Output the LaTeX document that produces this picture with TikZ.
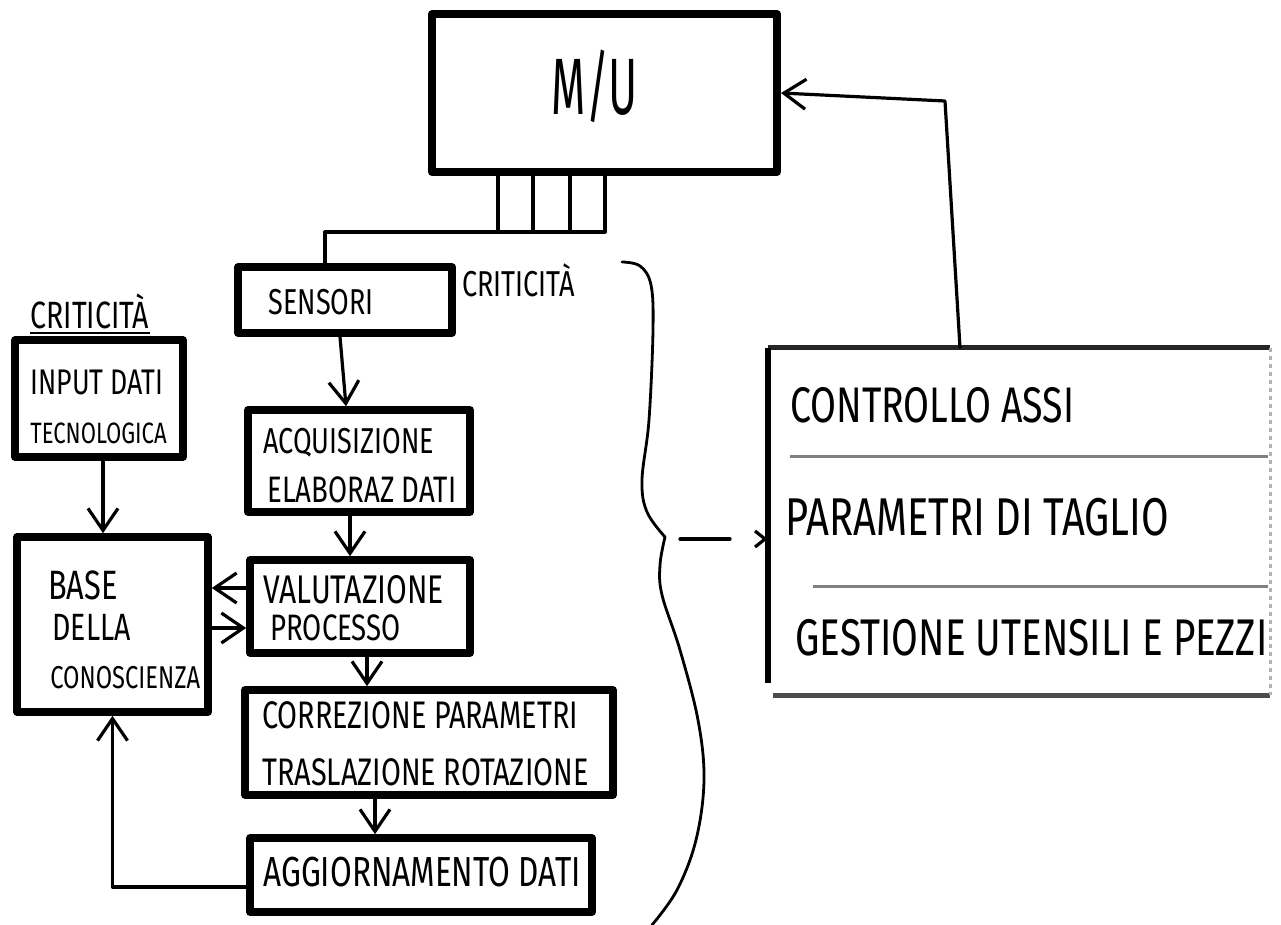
\documentclass[tikz,border=0pt]{standalone}
\usepackage{fontspec}
\setmainfont{Fira Sans}
\usetikzlibrary{arrows.meta,calc}
\newcommand{\hw}[3]{{\fontsize{#1}{#1}\selectfont\scalebox{#2}[1]{#3}}}
\begin{document}
\begin{tikzpicture}[x=0.5pt,y=-0.5pt,
  box/.style={draw, line width=3.8pt, inner sep=0pt, line join=round},
  conn/.style={line width=1.6pt, line cap=round, line join=round},
  arr/.style={conn, -{Straight Barb[length=11pt,width=15pt,line width=1.6pt]}},
  lbl/.style={anchor=west, inner sep=0pt},
]
\useasboundingbox[fill=white] (0,0) rectangle (1281,925);

% boxes
\node[box, line width=4pt, minimum width=172.5pt, minimum height=79pt] (mu) at (604.5,93) {};
\node[box, minimum width=107pt, minimum height=33pt] (sensori) at (345,300) {};
\node[box, minimum width=84pt, minimum height=58.5pt] (input) at (99,398.5) {};
\node[box, minimum width=95.5pt, minimum height=87.5pt] (base) at (112.5,624.5) {};
\node[box, minimum width=111pt, minimum height=51pt] (acq) at (359,461) {};
\node[box, minimum width=110pt, minimum height=46.5pt] (val) at (360,606.5) {};
\node[box, minimum width=184pt, minimum height=52.5pt] (corr) at (429,742.5) {};
\node[box, minimum width=171pt, minimum height=37pt] (agg) at (421,875) {};
\node[inner sep=0pt, minimum width=251pt, minimum height=173.5pt] (rbox) at (1019,521.5) {};

% right box sides
\draw[line width=2.5pt, black!85] (rbox.north west) -- (rbox.north east);
\draw[line width=3pt] (rbox.north west) -- ($(rbox.south west)+(0,-12)$);
\draw[line width=2.5pt, black!70] ($(rbox.south west)+(5,0)$) -- (rbox.south east);
\draw[line width=1.2pt, black!30, dash pattern=on 2pt off 2pt] (rbox.north east) -- (rbox.south east);
\draw[line width=1.8pt, black!50] ($(rbox.north west)+(22,109)$) -- ($(rbox.north east)+(-2,109)$);
\draw[line width=1.8pt, black!50] ($(rbox.north west)+(45,239)$) -- ($(rbox.north east)+(-2,239)$);

% texts
\node[anchor=center, inner sep=0pt] (tmu) at (595,86) {\hw{40}{0.55}{M/U}};
\node[lbl] (tsens) at (268,302) {\hw{18}{0.75}{SENSORI}};
\node[lbl] (tcrit1) at (462,280) {\hw{18}{0.75}{CRITICITÀ}};
\node[lbl] (tcrit2) at (30,311) {\hw{19}{0.75}{CRITICITÀ}};
\node[lbl] (tin1) at (30,382) {\hw{17.8}{0.75}{INPUT DATI}};
\node[lbl] (tin2) at (30,433) {\hw{14.7}{0.75}{TECNOLOGICA}};
\node[lbl] (tb1) at (48,585) {\hw{20.5}{0.75}{BASE}};
\node[lbl] (tb2) at (52,627) {\hw{19}{0.75}{DELLA}};
\node[lbl] (tb3) at (50,678) {\hw{15.8}{0.75}{CONOSCIENZA}};
\node[lbl] (ta1) at (263,443) {\hw{18}{0.75}{ACQUISIZIONE}};
\node[lbl] (ta2) at (267,490) {\hw{18.4}{0.75}{ELABORAZ DATI}};
\node[lbl] (tv1) at (263,590) {\hw{20}{0.75}{VALUTAZIONE}};
\node[lbl] (tv2) at (270,628) {\hw{18.4}{0.75}{PROCESSO}};
\node[lbl] (tc1) at (262,715) {\hw{19.2}{0.75}{CORREZIONE PARAMETRI}};
\node[lbl] (tc2) at (262,772) {\hw{19.2}{0.75}{TRASLAZIONE ROTAZIONE}};
\node[lbl] (tag) at (263,872) {\hw{21}{0.75}{AGGIORNAMENTO DATI}};
\node[lbl] (tr1) at (790,405) {\hw{25}{0.75}{CONTROLLO ASSI}};
\node[lbl] (tr2) at (785,517) {\hw{26.6}{0.75}{PARAMETRI DI TAGLIO}};
\node[lbl] (tr3) at (795,638) {\hw{25.8}{0.75}{GESTIONE UTENSILI E PEZZI}};
\draw[line width=1.2pt] ($(tcrit2.south west)+(0,4)$) -- ($(tcrit2.south east)+(0,4)$);

% bus from M/U to sensori
\coordinate (b1) at (498,232);
\coordinate (b2) at (533,232);
\coordinate (b3) at (570,232);
\coordinate (b4) at (605,232);
\coordinate (bL) at (325,232);
\draw[conn] (mu.south -| b1) -- (b1);
\draw[conn] (mu.south -| b2) -- (b2);
\draw[conn] (mu.south -| b3) -- (b3);
\draw[conn] (mu.south -| b4) -- (b4);
\draw[conn] (b4) -- (bL) -- (sensori.north -| bL);

% flow arrows
\draw[arr] ($(sensori.south)+(-5,0)$) -- ($(acq.north)+(-13,0)$);
\draw[arr] ($(acq.south)+(-9,0)$) -- ($(val.north)+(-10,0)$);
\draw[arr] ($(val.south)+(7,0)$) -- ($(corr.north)+(-62,0)$);
\draw[arr] ($(corr.south)+(-54,0)$) -- ($(agg.north)+(-46,0)$);
\draw[arr] ($(input.south)+(4,0)$) -- ($(base.north)+(-9.5,0)$);
\draw[arr] ($(val.west)+(0,-18.5)$) -- ($(base.east)+(0,-36.5)$);
\draw[arr] ($(base.east)+(0,3.5)$) -- ($(val.west)+(0,21.5)$);
\draw[arr] ($(agg.west)+(0,12)$) -| (base.south);

% feedback to M/U
\coordinate (turn) at (945,101);
\draw[arr] ($(rbox.north)+(-59,0)$) -- (turn) -- (mu.east);

% brace
\draw[conn, line width=1.4pt] plot[smooth, tension=0.6] coordinates {(622,262) (640,266) (651,285) (653,330) (649,420) (642,480) (647,512) (665,537)};
\draw[conn, line width=1.4pt] plot[smooth, tension=0.6] coordinates {(665,537) (660,565) (662,595) (680,650) (698,720) (704,780) (696,840) (677,890) (652,925)};
\coordinate (dstart) at (680,539);
\draw[conn, dash pattern=on 25pt off 40pt, -{Straight Barb[length=5pt,width=8pt,line width=1.6pt]}] (dstart) -- (rbox.west |- dstart);
\end{tikzpicture}
\end{document}
